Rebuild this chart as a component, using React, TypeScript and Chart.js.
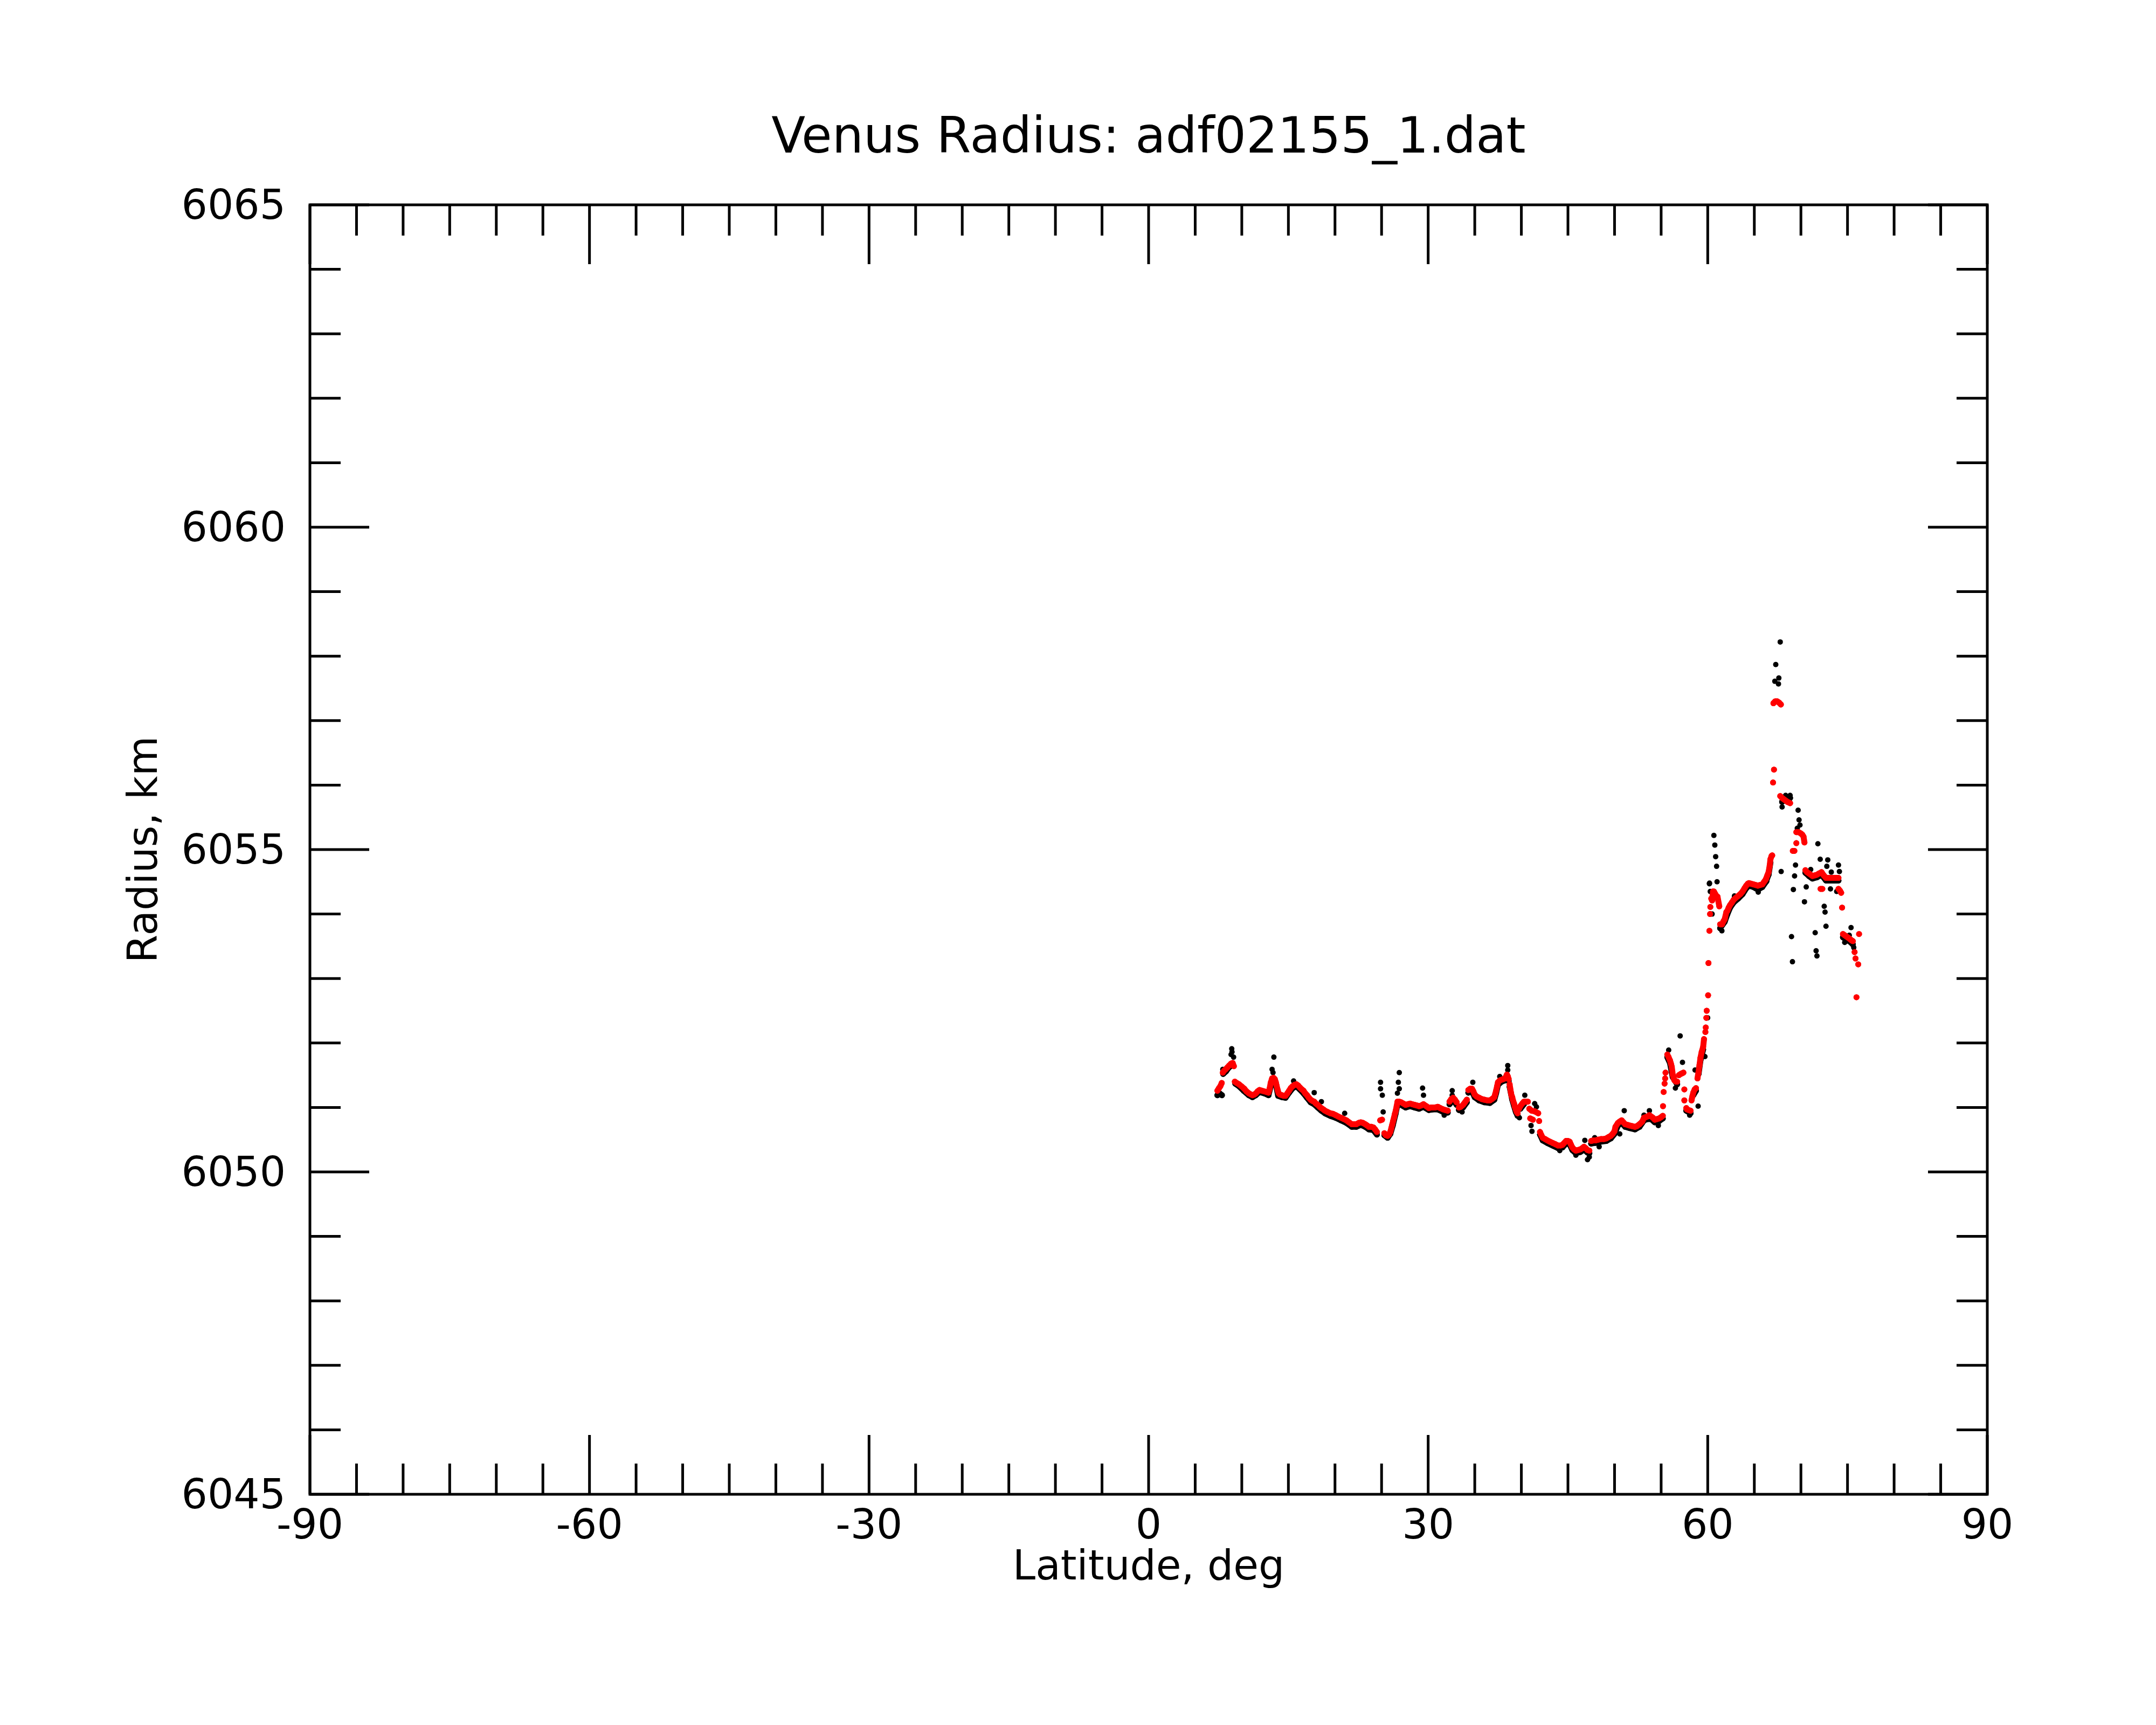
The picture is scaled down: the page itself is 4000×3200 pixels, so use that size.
import React, { useEffect, useRef } from "react";
import Chart from "chart.js/auto";

const chartTitle = "Venus Radius: adf02155_1.dat";
const xTitle = "Latitude, deg";
const yTitle = "Radius, km";
const latTicks = [-90, -60, -30, 0, 30, 60, 90];
const radiusTicks = [6045, 6050, 6055, 6060, 6065];

// smoothed radius (red). null splits the track where the dots stand apart
const smoothLat: (number | null)[] = [
	7.38, 7.55, 7.7, 7.85, null,
	7.96, 8.1, 8.25, 8.45, 8.64, 8.85, 9.02, 9.15, null,
	9.25, 9.45, 9.69, 9.95, 10.27, 10.5, 10.75, 11.0, 11.14, 11.35, 11.52, 11.7, 11.9, 12.15, 12.39, 12.65, 12.87, 13.0, 13.1, 13.25,
	13.4, 13.54, 13.65, 13.73, 13.85, 13.95, 14.1, 14.31, 14.5, 14.69, 14.9, 15.08, 15.25, 15.46, 15.65, 15.85, 16.05, 16.23, 16.45, 16.62,
	16.8, 17.0, 17.2, 17.39, 17.6, 17.77, 17.95, 18.15, 18.35, 18.54, 18.75, 18.92, 19.2, 19.5, 19.8, 20.08, 20.35, 20.65, 20.95, 21.23,
	21.5, 21.81, 22.05, 22.29, 22.55, 22.77, 23.0, 23.25, 23.45, 23.64, 23.9, 24.12, 24.3, 24.5, null,
	24.85, 25.05, null,
	25.3, 25.45, 25.65, 25.8, 25.94, 26.05, 26.14, 26.24, 26.33, 26.43, 26.52, 26.62, 26.71, 26.9, 27.1, 27.35, 27.58, 27.8, 28.06, 28.3,
	28.54, 28.8, 29.02, 29.25, 29.5, 29.8, 30.08, 30.3, 30.47, 30.75, 31.04, 31.3, 31.62, 31.85, 32.1, null,
	32.29, 32.48, 32.68, 32.87, 33.06, null,
	33.3, 33.5, 33.74, 33.95, 34.15, null,
	34.31, 34.5, 34.7, 34.85, 34.99, 35.2, 35.47, 35.75, 36.04, 36.35, 36.62, 36.85, 37.1, 37.2, 37.29, 37.4, 37.49, 37.7, 37.87, 38.05,
	38.26, 38.36, 38.45, 38.55, 38.64, null,
	38.74, 38.8, 38.88, 38.95, 39.02, 39.1, 39.22, 39.3, 39.41, 39.5, 39.6, null,
	39.75, 39.89, 40.1, 40.27, 40.5, 40.7, null,
	40.85, 41.1, 41.43, 41.81, null,
	40.95, 41.24, null,
	41.91, null,
	42.0, 42.15, 42.29, 42.55, 42.78, 43.05, 43.35, 43.65, 43.93, 44.2, 44.41, 44.6, 44.79, 45.0, 45.18, 45.3, 45.47, 45.65, 45.85, 46.1,
	46.33, 46.55, 46.72, 46.9, 47.1, 47.3, null,
	47.49, 47.75, 47.97, 48.25, 48.55, 48.85, 49.12, 49.35, 49.6, 49.8, 49.99, 50.1, 50.37, 50.55, 50.76, 50.95, 51.14, 51.4, 51.62, 51.9,
	52.2, 52.4, 52.68, 52.97, 53.16, 53.35, 53.54, 53.74, 53.93, 54.12, 54.31, 54.55, 54.79, 55.0, 55.18, null,
	55.2, null, 55.27, null, 55.37, null, 55.43, null, 55.47, null,
	55.66, 55.8, 55.95, 56.05, 56.14, 56.2, 56.24, 56.35, 56.43, 56.6, 56.72, null,
	56.9, 57.1, 57.25, 57.39, null,
	57.49, null, 57.49, null,
	57.7, 57.77, 57.95, 58.16, null,
	58.26, 58.35, 58.45, 58.6, 58.74, null,
	58.9, 59.02, 59.12, 59.22, 59.35, 59.51, 59.6, null,
	59.75, null, 59.79, null, 59.85, null, 59.89, null, 60.04, null, 60.08, null, 60.18, null, 60.25, null, 60.28, null,
	60.38, 60.47, 60.57, 60.66, 60.85, 60.95, 61.05, 61.24, null,
	61.33, 61.53, 61.7, 61.82, 62.0, 62.11, 62.25, 62.4, 62.6, 62.78, 63.0, 63.26, 63.5, 63.74, 63.95, 64.13, 64.3, 64.42, 64.65, 64.9,
	65.15, 65.38, 65.6, 65.86, 66.05, 66.24, 66.4, 66.53, 66.65, 66.73, 66.85, 66.92, null,
	67.01, null, 67.11, null,
	67.05, 67.25, 67.45, 67.65, 67.85, null,
	67.78, 67.98, 68.17, 68.36, 68.55, 68.7, 68.84, null,
	69.13, 69.3, null,
	69.51, null,
	69.51, 69.75, 69.99, 70.15, 70.28, 70.38, null,
	70.48, 70.65, 70.86, 71.05, 71.24, 71.5, 71.72, 71.95, 72.21, 72.45, 72.69, 72.9, 73.17, 73.4, 73.65, 73.85, 74.03, null,
	72.11, 72.3, null,
	74.03, 74.2, 74.32, null,
	74.42, null,
	74.51, 74.7, 74.9, 75.1, 75.28, 75.45, 75.57, null,
	76.24, null, 75.76, null, 75.86, null, 76.15, null, 75.96,
];

const smoothRadius: (number | null)[] = [
	6051.26, 6051.3, 6051.33, 6051.38, null,
	6051.54, 6051.57, 6051.59, 6051.62, 6051.65, 6051.68, 6051.69, 6051.64, null,
	6051.4, 6051.38, 6051.36, 6051.33, 6051.29, 6051.25, 6051.22, 6051.2, 6051.19, 6051.2, 6051.22, 6051.25, 6051.27, 6051.26, 6051.25, 6051.24, 6051.23, 6051.3, 6051.38, 6051.45,
	6051.46, 6051.44, 6051.39, 6051.34, 6051.27, 6051.22, 6051.2, 6051.19, 6051.18, 6051.18, 6051.22, 6051.26, 6051.3, 6051.33, 6051.35, 6051.36, 6051.34, 6051.31, 6051.28, 6051.26,
	6051.22, 6051.19, 6051.15, 6051.12, 6051.1, 6051.09, 6051.06, 6051.04, 6051.01, 6050.99, 6050.97, 6050.95, 6050.93, 6050.91, 6050.9, 6050.88, 6050.86, 6050.84, 6050.82, 6050.8,
	6050.77, 6050.74, 6050.74, 6050.74, 6050.76, 6050.77, 6050.76, 6050.74, 6050.72, 6050.7, 6050.7, 6050.69, 6050.66, 6050.62, null,
	6050.8, 6050.81, null,
	6050.6, 6050.57, 6050.56, 6050.58, 6050.62, 6050.68, 6050.73, 6050.79, 6050.84, 6050.9, 6050.95, 6051.02, 6051.09, 6051.09, 6051.08, 6051.06, 6051.04, 6051.05, 6051.06, 6051.05,
	6051.04, 6051.03, 6051.02, 6051.03, 6051.05, 6051.02, 6050.99, 6051.0, 6051.0, 6051.0, 6051.01, 6050.99, 6050.97, 6050.96, 6050.95, null,
	6051.09, 6051.13, 6051.15, 6051.12, 6051.08, null,
	6051.0, 6051.01, 6051.04, 6051.08, 6051.12, null,
	6051.27, 6051.29, 6051.29, 6051.25, 6051.2, 6051.17, 6051.15, 6051.13, 6051.12, 6051.11, 6051.11, 6051.13, 6051.16, 6051.21, 6051.26, 6051.33, 6051.39, 6051.42, 6051.43, 6051.44,
	6051.45, 6051.48, 6051.51, 6051.48, 6051.44, null,
	6051.36, 6051.3, 6051.23, 6051.18, 6051.16, 6051.11, 6051.06, 6051.01, 6050.97, 6050.93, 6050.91, null,
	6050.98, 6051.02, 6051.06, 6051.09, 6051.09, 6051.09, null,
	6050.98, 6050.95, 6050.94, 6050.91, null,
	6050.83, 6050.81, null,
	6050.79, null,
	6050.62, 6050.57, 6050.53, 6050.51, 6050.49, 6050.47, 6050.45, 6050.43, 6050.41, 6050.41, 6050.42, 6050.45, 6050.48, 6050.48, 6050.47, 6050.43, 6050.38, 6050.35, 6050.33, 6050.34,
	6050.35, 6050.37, 6050.39, 6050.37, 6050.34, 6050.33, null,
	6050.48, 6050.49, 6050.49, 6050.5, 6050.51, 6050.51, 6050.52, 6050.54, 6050.56, 6050.59, 6050.63, 6050.7, 6050.76, 6050.78, 6050.8, 6050.77, 6050.74, 6050.73, 6050.72, 6050.71,
	6050.7, 6050.71, 6050.74, 6050.78, 6050.84, 6050.85, 6050.86, 6050.88, 6050.86, 6050.84, 6050.81, 6050.82, 6050.83, 6050.85, 6050.87, null,
	6051.02, null, 6051.24, null, 6051.37, null, 6051.45, null, 6051.54, null,
	6051.82, 6051.78, 6051.73, 6051.68, 6051.63, 6051.56, 6051.51, 6051.45, 6051.42, 6051.4, 6051.4, null,
	6051.5, 6051.52, 6051.53, 6051.54, null,
	6051.28, null, 6051.11, null,
	6050.99, 6050.97, 6050.96, 6050.95, null,
	6051.11, 6051.17, 6051.23, 6051.28, 6051.3, null,
	6051.45, 6051.56, 6051.66, 6051.77, 6051.86, 6051.94, 6052.06, null,
	6052.17, null, 6052.24, null, 6052.39, null, 6052.5, null, 6052.74, null, 6053.24, null, 6053.74, null, 6054.0, null, 6054.11, null,
	6054.24, 6054.21, 6054.35, 6054.35, 6054.3, 6054.26, 6054.27, 6054.12, null,
	6053.84, 6053.84, 6053.89, 6053.92, 6054.03, 6054.05, 6054.1, 6054.14, 6054.18, 6054.22, 6054.25, 6054.28, 6054.31, 6054.35, 6054.4, 6054.44, 6054.47, 6054.48, 6054.47, 6054.46,
	6054.45, 6054.44, 6054.45, 6054.46, 6054.5, 6054.54, 6054.6, 6054.65, 6054.75, 6054.85, 6054.9, 6054.91, null,
	6056.04, null, 6056.24, null,
	6057.27, 6057.3, 6057.3, 6057.28, 6057.25, null,
	6055.83, 6055.8, 6055.78, 6055.76, 6055.74, 6055.73, 6055.72, null,
	6054.98, 6054.98, null,
	6055.1, null,
	6055.27, 6055.27, 6055.25, 6055.23, 6055.2, 6055.11, null,
	6054.68, 6054.65, 6054.63, 6054.61, 6054.59, 6054.6, 6054.61, 6054.63, 6054.65, 6054.6, 6054.56, 6054.56, 6054.56, 6054.56, 6054.56, 6054.56, 6054.56, null,
	6054.39, 6054.39, null,
	6054.39, 6054.36, 6054.33, null,
	6054.1, null,
	6053.69, 6053.67, 6053.65, 6053.63, 6053.61, 6053.59, 6053.58, null,
	6053.69, null, 6053.41, null, 6053.31, null, 6053.22, null, 6052.71,
];

// raw radius (black), mostly hidden under the red track
const rawLat: (number | null)[] = [
	7.38, 7.6, 7.87, null,
	8.0, 8.3, 8.6, 9.0, null,
	9.3, 9.7, 10.2, 10.75, 11.14, 11.5, 11.9, 12.4, 12.87, 13.1, 13.3, 13.6, 13.9, 14.31, 14.69, 15.08, 15.46, 15.85, 16.23, 16.62,
	17.0, 17.39, 17.77, 18.15, 18.54, 18.92, 19.5, 20.08, 20.65, 21.23, 21.81, 22.29, 22.77, 23.25, 23.64, 24.12, 24.5, null,
	25.3, 25.65, 25.94, 26.2, 26.5, 26.71, 27.1, 27.58, 28.06, 28.54, 29.02, 29.5, 30.08, 30.47, 31.04, 31.62, 32.1, null,
	32.29, 32.68, 33.06, null,
	33.3, 33.74, 34.15, null,
	34.31, 34.7, 34.99, 35.47, 36.04, 36.62, 37.1, 37.29, 37.49, 37.87, 38.26, 38.45, 38.64, null,
	38.74, 39.02, 39.22, 39.41, 39.6, null,
	39.89, 40.27, null,
	42.0, 42.29, 42.78, 43.35, 43.93, 44.41, 44.79, 45.18, 45.47, 45.85, 46.33, 46.72, 47.1, 47.3, null,
	47.49, 47.97, 48.55, 49.12, 49.6, 49.99, 50.37, 50.76, 51.14, 51.62, 52.2, 52.68, 53.16, 53.54, 53.93, 54.31, 54.79, 55.18, null,
	55.66, 55.95, 56.24, 56.72, null,
	57.7, 58.16, null,
	58.45, 58.74, null,
	59.02, 59.22, 59.51, null,
	61.33, 61.82, 62.11, 62.4, 62.78, 63.26, 63.74, 64.13, 64.42, 64.9, 65.38, 65.86, 66.24, 66.53, 66.73, null,
	67.98, 68.36, 68.84, null,
	70.48, 70.86, 71.24, 71.72, 72.21, 72.69, 73.17, 73.65, 74.03, null,
	74.51, 74.9, 75.28, 75.57,
];

const rawRadius: (number | null)[] = [
	6051.19, 6051.22, 6051.19, null,
	6051.52, 6051.56, 6051.62, 6051.66, null,
	6051.37, 6051.33, 6051.26, 6051.19, 6051.16, 6051.19, 6051.24, 6051.22, 6051.19, 6051.33, 6051.42, 6051.4, 6051.18, 6051.16, 6051.15, 6051.23, 6051.3, 6051.33, 6051.28, 6051.22,
	6051.15, 6051.08, 6051.05, 6051.0, 6050.95, 6050.91, 6050.87, 6050.84, 6050.8, 6050.76, 6050.7, 6050.7, 6050.73, 6050.7, 6050.66, 6050.65, 6050.58, null,
	6050.57, 6050.53, 6050.59, 6050.72, 6050.9, 6051.05, 6051.04, 6051.0, 6051.02, 6051.0, 6050.98, 6051.01, 6050.96, 6050.97, 6050.97, 6050.93, 6050.92, null,
	6051.05, 6051.12, 6051.04, null,
	6050.96, 6051.0, 6051.08, null,
	6051.23, 6051.25, 6051.16, 6051.11, 6051.08, 6051.07, 6051.12, 6051.22, 6051.35, 6051.4, 6051.42, 6051.48, 6051.41, null,
	6051.32, 6051.12, 6051.02, 6050.93, 6050.87, null,
	6050.98, 6051.05, null,
	6050.58, 6050.49, 6050.45, 6050.41, 6050.37, 6050.38, 6050.44, 6050.43, 6050.34, 6050.29, 6050.31, 6050.35, 6050.3, 6050.29, null,
	6050.44, 6050.45, 6050.47, 6050.48, 6050.52, 6050.59, 6050.72, 6050.76, 6050.7, 6050.68, 6050.66, 6050.7, 6050.8, 6050.82, 6050.82, 6050.77, 6050.79, 6050.83, null,
	6051.78, 6051.69, 6051.47, 6051.36, null,
	6050.95, 6050.91, null,
	6051.19, 6051.26, null,
	6051.52, 6051.73, 6051.9, null,
	6053.78, 6053.88, 6054.0, 6054.1, 6054.18, 6054.24, 6054.31, 6054.4, 6054.44, 6054.42, 6054.38, 6054.42, 6054.5, 6054.61, 6054.8, null,
	6055.74, 6055.8, 6055.8, null,
	6054.64, 6054.59, 6054.55, 6054.57, 6054.61, 6054.52, 6054.52, 6054.52, 6054.52, null,
	6053.64, 6053.6, 6053.57, 6053.53,
];

// raw samples that stand off the track
const spikeLat = [
	7.96, 8.85, 8.92, 8.95, 9.12, 13.25, 13.35, 13.44, 15.56, 17.77, 18.54, 21.04,
	24.89, 24.89, 25.08, 25.17, 26.7, 26.8, 26.9, 26.9, 29.4, 29.5,
	31.72, 32.58, 32.58, 33.64, 34.79, 37.68, 38.54, 38.54, 39.79, 40.37,
	41.04, 41.14, 41.43, 41.62, 44.12, 45.85, 46.81, 47.1, 47.29, 47.87, 48.35,
	50.56, 51.04, 53.16, 53.74, 54.7,
	55.81, 56.53, 57.04, 57.29, 58.06, 58.64, 58.97, 59.7, 59.99,
	60.18, 60.19, 60.27, 60.47, 60.66, 60.76, 60.85, 60.95, 61.0, 61.52, 62.87, 62.88, 65.42, 66.34,
	67.2, 67.3, 67.59, 67.63, 67.78, 67.88, 67.98, 68.36, 68.84, 68.99, 69.09, 69.19, 69.32, 69.42,
	69.61, 69.7, 69.8, 69.9, 70.38, 70.57, 71.05, 71.53, 71.63, 71.72, 71.82, 72.07,
	72.5, 72.59, 72.69, 72.78, 72.88, 73.17, 73.26, 73.84, 74.03, 74.13, 74.7, 75.19, 75.38, 75.67,
];

const spikeRadius = [
	6051.59, 6051.82, 6051.91, 6051.86, 6051.78, 6051.59, 6051.54, 6051.78, 6051.41, 6051.23, 6051.09, 6050.91,
	6051.39, 6051.29, 6051.19, 6050.93, 6051.22, 6051.39, 6051.54, 6051.29, 6051.3, 6051.19,
	6050.88, 6051.26, 6051.19, 6050.93, 6051.39, 6051.48, 6051.65, 6051.58, 6050.84, 6051.19,
	6050.72, 6050.63, 6051.06, 6051.01, 6050.33, 6050.26, 6050.49, 6050.19, 6050.23, 6050.53, 6050.39,
	6050.59, 6050.95, 6050.88, 6050.95, 6050.72,
	6051.89, 6051.3, 6052.11, 6051.7, 6050.88, 6051.58, 6051.02, 6051.79, 6052.39,
	6054.47, 6054.48, 6054.35, 6054.0, 6055.22, 6055.07, 6054.89, 6054.74, 6054.5, 6053.74, 6054.28, 6054.27, 6054.34, 6054.51,
	6057.61, 6057.87, 6057.57, 6057.66, 6058.22, 6054.66, 6055.66, 6055.84, 6055.84, 6053.65, 6053.26, 6054.38, 6054.59, 6054.76,
	6055.33, 6055.61, 6055.46, 6055.38, 6054.19, 6054.42, 6054.69, 6053.71, 6053.43, 6053.35, 6055.09, 6054.85,
	6054.12, 6054.03, 6053.81, 6054.74, 6054.84, 6054.39, 6054.65, 6054.35, 6054.76, 6054.66, 6053.56, 6053.67, 6053.79, 6053.48,
];

const FONT = "'DejaVu Sans'";

const toPoints = (xs: (number | null)[], ys: (number | null)[]) =>
	xs.map((x, i) => ({ x, y: ys[i] }));

// box round the plot with inward ticks on all four sides, plus the title
const framePlugin = {
	id: "frame",
	afterDatasetsDraw(chart: any) {
		const { ctx, chartArea: a, scales } = chart;
		const xs = scales.x;
		const ys = scales.y;
		ctx.save();
		ctx.strokeStyle = "#000";
		ctx.lineWidth = 5;
		ctx.strokeRect(a.left, a.top, a.right - a.left, a.bottom - a.top);
		ctx.beginPath();
		for (let v = xs.min; v <= xs.max; v += 5) {
			const px = xs.getPixelForValue(v);
			const len = v % 30 === 0 ? 110 : 57;
			ctx.moveTo(px, a.bottom);
			ctx.lineTo(px, a.bottom - len);
			ctx.moveTo(px, a.top);
			ctx.lineTo(px, a.top + len);
		}
		for (let v = ys.min; v <= ys.max; v += 1) {
			const py = ys.getPixelForValue(v);
			const len = v % 5 === 0 ? 110 : 57;
			ctx.moveTo(a.left, py);
			ctx.lineTo(a.left + len, py);
			ctx.moveTo(a.right, py);
			ctx.lineTo(a.right - len, py);
		}
		ctx.stroke();

		ctx.fillStyle = "#000";
		ctx.font = `92px ${FONT}`;
		ctx.textAlign = "center";
		ctx.textBaseline = "alphabetic";
		ctx.fillText(chartTitle, (a.left + a.right) / 2, 283);
		ctx.restore();
	},
};

const App = () => {
	const chartRef = useRef<HTMLCanvasElement>(null);
	const chartInstance = useRef<Chart | null>(null);

	useEffect(() => {
		if (!chartRef.current) return;
		const ctx = chartRef.current.getContext("2d");
		if (!ctx) return;

		if (chartInstance.current) {
			chartInstance.current.destroy();
		}

		chartInstance.current = new Chart(ctx, {
			type: "scatter",
			data: {
				datasets: [
					{
						label: "smoothed",
						data: toPoints(smoothLat, smoothRadius),
						showLine: true,
						spanGaps: false,
						borderColor: "#ff0000",
						borderWidth: 11,
						borderCapStyle: "round",
						borderJoinStyle: "round",
						backgroundColor: "#ff0000",
						pointRadius: 5.5,
						pointBorderWidth: 0,
						pointHoverRadius: 0,
						order: 0,
					},
					{
						label: "raw",
						data: toPoints(rawLat, rawRadius),
						showLine: true,
						spanGaps: false,
						borderColor: "#000000",
						borderWidth: 11,
						borderCapStyle: "round",
						borderJoinStyle: "round",
						backgroundColor: "#000000",
						pointRadius: 5.5,
						pointBorderWidth: 0,
						pointHoverRadius: 0,
						order: 1,
					},
					{
						label: "raw spikes",
						data: toPoints(spikeLat, spikeRadius),
						backgroundColor: "#000000",
						pointRadius: 5,
						pointBorderWidth: 0,
						pointHoverRadius: 0,
						order: 2,
					},
				],
			},
			options: {
				animation: false,
				responsive: true,
				maintainAspectRatio: false,
				devicePixelRatio: 1,
				events: [],
				layout: {
					autoPadding: false,
					padding: { top: 380, right: 313, bottom: 0, left: 0 },
				},
				plugins: {
					legend: { display: false },
					tooltip: { enabled: false },
					title: { display: false },
				},
				scales: {
					x: {
						type: "linear",
						position: "bottom",
						min: latTicks[0],
						max: latTicks[latTicks.length - 1],
						grid: { display: false, drawTicks: false },
						border: { display: false },
						ticks: {
							stepSize: latTicks[1] - latTicks[0],
							color: "#000",
							padding: 17,
							maxRotation: 0,
							font: { family: FONT, size: 76, lineHeight: 1.2 },
							callback: (v: any) => String(v),
						},
						title: {
							display: true,
							text: xTitle,
							color: "#000",
							font: { family: FONT, size: 76, lineHeight: 1.2 },
							padding: { top: 0, bottom: 244 },
						},
						afterFit: (s: any) => {
							s.height = 428;
						},
					},
					y: {
						type: "linear",
						position: "left",
						min: radiusTicks[0],
						max: radiusTicks[radiusTicks.length - 1],
						grid: { display: false, drawTicks: false },
						border: { display: false },
						ticks: {
							stepSize: radiusTicks[1] - radiusTicks[0],
							color: "#000",
							padding: 45,
							labelOffset: 6,
							font: { family: FONT, size: 76, lineHeight: 1.2 },
							callback: (v: any) => String(v),
						},
						title: {
							display: true,
							text: yTitle,
							color: "#000",
							font: { family: FONT, size: 76, lineHeight: 1.2 },
							padding: { top: 226, bottom: 0 },
						},
						afterFit: (s: any) => {
							s.width = 575;
						},
					},
				},
			},
			plugins: [framePlugin],
		});

		return () => {
			if (chartInstance.current) {
				chartInstance.current.destroy();
				chartInstance.current = null;
			}
		};
	}, []);

	return (
		<div style={{ position: "absolute", left: 0, top: 0, width: 4000, height: 3200, background: "#fff" }}>
			<canvas ref={chartRef} />
		</div>
	);
};

export default App;
